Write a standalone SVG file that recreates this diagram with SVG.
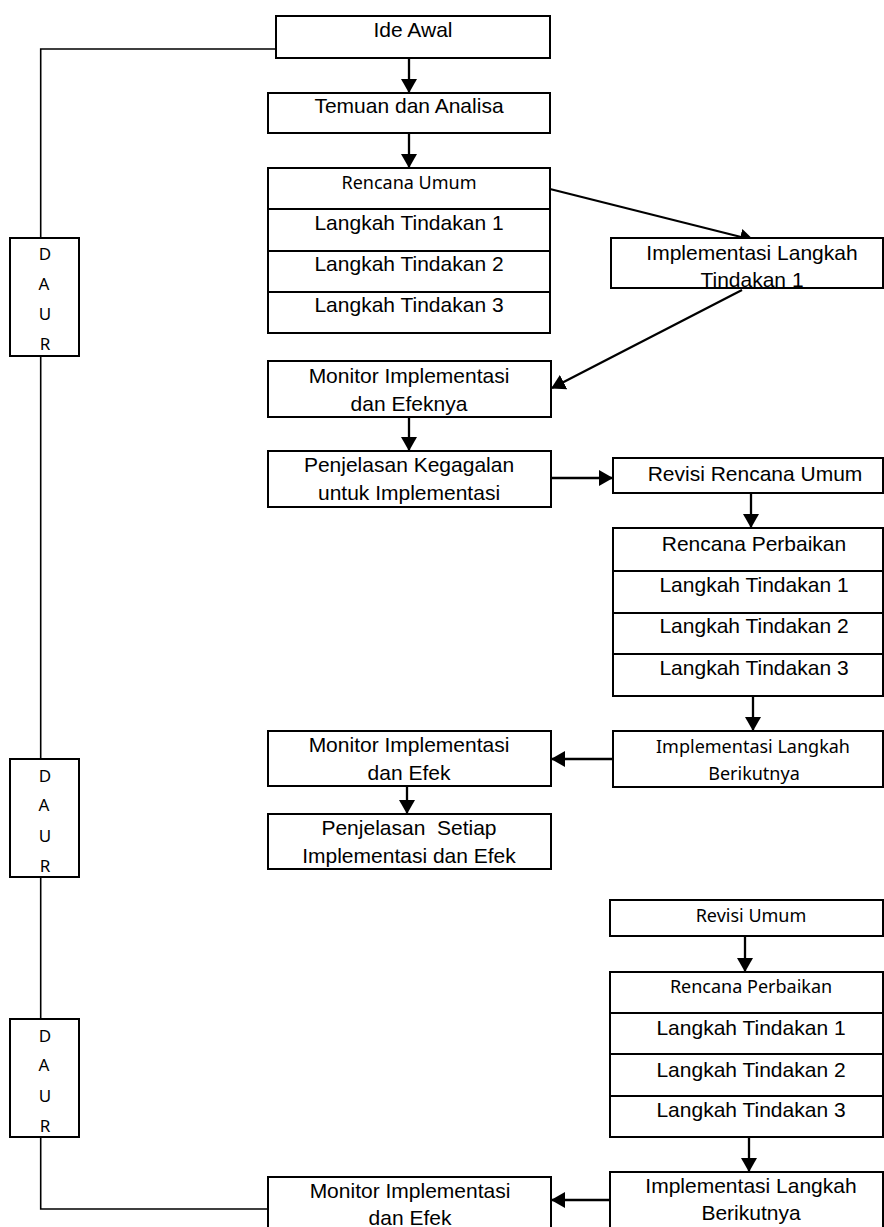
<svg xmlns="http://www.w3.org/2000/svg" width="884" height="1227" viewBox="0 0 884 1227">
<style>
.box{fill:#fff;stroke:#000;stroke-width:2}
.div{stroke:#000;stroke-width:2}
.t{font-family:"Liberation Sans",Arial,sans-serif;font-size:21px;fill:#000;text-anchor:middle}
.c{font-family:"Noto Sans","Open Sans",sans-serif;font-size:18px;fill:#000;text-anchor:middle}
.d{font-family:"Noto Sans","Open Sans",sans-serif;font-size:17px;fill:#000;text-anchor:middle}
.arr{fill:none;stroke:#000;stroke-width:2.3;marker-end:url(#ah)}
.cyc{fill:none;stroke:#000;stroke-width:1.6}
</style>
<defs>
<marker id="ah" viewBox="0 0 14 16" refX="13" refY="8" markerWidth="14" markerHeight="16" markerUnits="userSpaceOnUse" orient="auto">
<path d="M0,0 L14,8 L0,16 z" fill="#000"/>
</marker>
</defs>
<rect width="884" height="1227" fill="#fff"/>

<g id="connectors">
<path class="cyc" d="M276,49 L40.7,49 L40.7,238"/>
<path class="cyc" d="M40.7,356 L40.7,759"/>
<path class="cyc" d="M40.7,877 L40.7,1019"/>
<path class="cyc" d="M40.7,1137 L40.7,1209 L268,1209"/>
<path class="arr" d="M409,58 L409,92"/>
<path class="arr" d="M409,133 L409,167"/>
<path class="arr" d="M550,189 L753,240"/>
<path class="arr" d="M742,290 L552,388"/>
<path class="arr" d="M409,417 L409,450"/>
<path class="arr" d="M551,478 L612,478"/>
<path class="arr" d="M751,493 L751,527"/>
<path class="arr" d="M753,696 L753,730"/>
<path class="arr" d="M613,759 L552,759"/>
<path class="arr" d="M407,786 L407,813"/>
<path class="arr" d="M745,936 L745,971"/>
<path class="arr" d="M749,1137 L749,1171"/>
<path class="arr" d="M610,1200 L552,1200"/>
</g>

<g id="daur1">
<rect class="box" x="10" y="238" width="69" height="118"/>
<text class="d" x="45" y="260">D</text>
<text class="d" x="44" y="290">A</text>
<text class="d" x="45" y="320">U</text>
<text class="d" x="45" y="350">R</text>
</g>
<g id="daur2">
<rect class="box" x="10" y="759" width="69" height="118"/>
<text class="d" x="45" y="782">D</text>
<text class="d" x="44" y="811">A</text>
<text class="d" x="45" y="842">U</text>
<text class="d" x="45" y="872">R</text>
</g>
<g id="daur3">
<rect class="box" x="10" y="1019" width="69" height="118"/>
<text class="d" x="45" y="1042">D</text>
<text class="d" x="44" y="1071">A</text>
<text class="d" x="45" y="1102">U</text>
<text class="d" x="45" y="1132">R</text>
</g>

<g id="ide-awal">
<rect class="box" x="276" y="16" width="274" height="42"/>
<text class="t" x="413" y="37">Ide Awal</text>
</g>
<g id="temuan">
<rect class="box" x="268" y="93" width="282" height="40"/>
<text class="t" x="409" y="113">Temuan dan Analisa</text>
</g>
<g id="rencana-umum">
<rect class="box" x="268" y="168" width="282" height="165"/>
<line class="div" x1="268" y1="209" x2="550" y2="209"/>
<line class="div" x1="268" y1="251" x2="550" y2="251"/>
<line class="div" x1="268" y1="292" x2="550" y2="292"/>
<text class="c" x="409" y="189">Rencana Umum</text>
<text class="t" x="409" y="230">Langkah Tindakan 1</text>
<text class="t" x="409" y="271">Langkah Tindakan 2</text>
<text class="t" x="409" y="312">Langkah Tindakan 3</text>
</g>
<g id="impl-1">
<rect class="box" x="611" y="238" width="272" height="50"/>
<text class="t" x="752" y="260">Implementasi Langkah</text>
<text class="t" x="752" y="287">Tindakan 1</text>
</g>
<g id="monitor-1">
<rect class="box" x="268" y="361" width="283" height="56"/>
<text class="t" x="409" y="383">Monitor Implementasi</text>
<text class="t" x="409" y="411">dan Efeknya</text>
</g>
<g id="penjelasan-kegagalan">
<rect class="box" x="268" y="451" width="283" height="56"/>
<text class="t" x="409" y="472">Penjelasan Kegagalan</text>
<text class="t" x="409" y="500">untuk Implementasi</text>
</g>
<g id="revisi-rencana">
<rect class="box" x="613" y="458" width="270" height="35"/>
<text class="t" x="755" y="481">Revisi Rencana Umum</text>
</g>
<g id="rencana-perbaikan-1">
<rect class="box" x="613" y="528" width="270" height="168"/>
<line class="div" x1="613" y1="571" x2="883" y2="571"/>
<line class="div" x1="613" y1="613" x2="883" y2="613"/>
<line class="div" x1="613" y1="654" x2="883" y2="654"/>
<text class="t" x="754" y="551">Rencana Perbaikan</text>
<text class="t" x="754" y="592">Langkah Tindakan 1</text>
<text class="t" x="754" y="633">Langkah Tindakan 2</text>
<text class="t" x="754" y="675">Langkah Tindakan 3</text>
</g>
<g id="impl-2">
<rect class="box" x="613" y="731" width="270" height="56"/>
<text class="c" x="753" y="753">Implementasi Langkah</text>
<text class="c" x="754" y="780">Berikutnya</text>
</g>
<g id="monitor-2">
<rect class="box" x="268" y="731" width="283" height="55"/>
<text class="t" x="409" y="752">Monitor Implementasi</text>
<text class="t" x="409" y="780">dan Efek</text>
</g>
<g id="penjelasan-setiap">
<rect class="box" x="268" y="814" width="283" height="55"/>
<text class="t" x="409" y="835" xml:space="preserve">Penjelasan  Setiap</text>
<text class="t" x="409" y="863">Implementasi dan Efek</text>
</g>
<g id="revisi-umum">
<rect class="box" x="610" y="900" width="273" height="36"/>
<text class="c" x="751" y="922">Revisi Umum</text>
</g>
<g id="rencana-perbaikan-2">
<rect class="box" x="610" y="972" width="273" height="165"/>
<line class="div" x1="610" y1="1013" x2="883" y2="1013"/>
<line class="div" x1="610" y1="1054" x2="883" y2="1054"/>
<line class="div" x1="610" y1="1096" x2="883" y2="1096"/>
<text class="c" x="751" y="993">Rencana Perbaikan</text>
<text class="t" x="751" y="1035">Langkah Tindakan 1</text>
<text class="t" x="751" y="1077">Langkah Tindakan 2</text>
<text class="t" x="751" y="1117">Langkah Tindakan 3</text>
</g>
<g id="impl-3">
<rect class="box" x="610" y="1172" width="273" height="60"/>
<text class="t" x="751" y="1193">Implementasi Langkah</text>
<text class="t" x="751" y="1220">Berikutnya</text>
</g>
<g id="monitor-3">
<rect class="box" x="268" y="1177" width="283" height="55"/>
<text class="t" x="410" y="1198">Monitor Implementasi</text>
<text class="t" x="410" y="1225">dan Efek</text>
</g>
</svg>
